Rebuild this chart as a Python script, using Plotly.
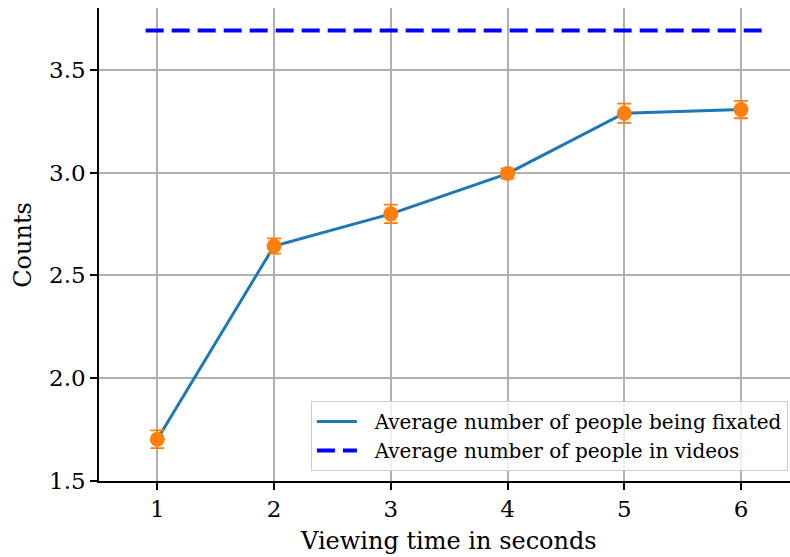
import plotly.graph_objects as go

# Viewing time (seconds) and the fixated-people statistics
seconds = [1, 2, 3, 4, 5, 6]
avg_fixated = [1.703, 2.643, 2.799, 2.995, 3.288, 3.306]
fixated_err = [0.043, 0.037, 0.045, 0.025, 0.047, 0.042]

# Average number of people present in the videos (constant reference)
ref_x = [0.9, 6.2]
avg_in_videos = [3.69, 3.69]

x_ticks = [1, 2, 3, 4, 5, 6]
y_ticks = [1.5, 2.0, 2.5, 3.0, 3.5]
y_tick_text = ["1.5", "2.0", "2.5", "3.0", "3.5"]

FONT = "DejaVu Serif"
GAP = "\u00a0\u00a0"  # spacing between legend sample and its label

fig = go.Figure()

fig.add_trace(go.Scatter(
    x=seconds, y=avg_fixated, mode="lines",
    line=dict(color="#1f77b4", width=3),
    name=GAP + "Average number of people being fixated",
))

fig.add_trace(go.Scatter(
    x=ref_x, y=avg_in_videos, mode="lines",
    line=dict(color="#0000ff", width=4, dash="18px,8px"),
    name=GAP + "Average number of people in videos",
))

fig.add_trace(go.Scatter(
    x=seconds, y=avg_fixated, mode="markers",
    marker=dict(color="#ff7f0e", size=15),
    error_y=dict(type="data", array=fixated_err, color="#ff7f0e",
                 thickness=1.8, width=7),
    showlegend=False,
))

fig.update_layout(
    width=790, height=557,
    margin=dict(l=99, r=0, t=8, b=76),
    paper_bgcolor="white", plot_bgcolor="white",
    font=dict(family=FONT, color="black", size=20),
    legend=dict(
        x=0.997, xanchor="right", y=0.021, yanchor="bottom",
        bgcolor="rgba(255,255,255,0.8)", bordercolor="#cccccc", borderwidth=1,
        font=dict(family=FONT, size=20),
        itemwidth=40,
    ),
    annotations=[
        dict(text="Viewing time in seconds", xref="paper", yref="paper",
             x=0.5065, y=-0.127, xanchor="center", yanchor="middle",
             showarrow=False, font=dict(family=FONT, size=24)),
        dict(text="Counts", xref="paper", yref="paper",
             x=-0.111, y=0.5, xanchor="center", yanchor="middle", textangle=-90,
             showarrow=False, font=dict(family=FONT, size=24)),
    ],
)

fig.update_xaxes(
    range=[0.5, 6.42], tickvals=x_ticks,
    tickfont=dict(family=FONT, size=23),
    showgrid=True, gridcolor="#b0b0b0", gridwidth=1.5,
    showline=True, linecolor="black", linewidth=1.5,
    ticks="outside", ticklen=7, tickwidth=1.5, tickcolor="black",
    zeroline=False,
)
fig.update_yaxes(
    range=[1.5, 3.8], tickvals=y_ticks, ticktext=y_tick_text,
    tickfont=dict(family=FONT, size=23),
    showgrid=True, gridcolor="#b0b0b0", gridwidth=1.5,
    showline=True, linecolor="black", linewidth=1.5,
    ticks="outside", ticklen=7, tickwidth=1.5, tickcolor="black",
    zeroline=False,
)

fig.write_html("out.html")
